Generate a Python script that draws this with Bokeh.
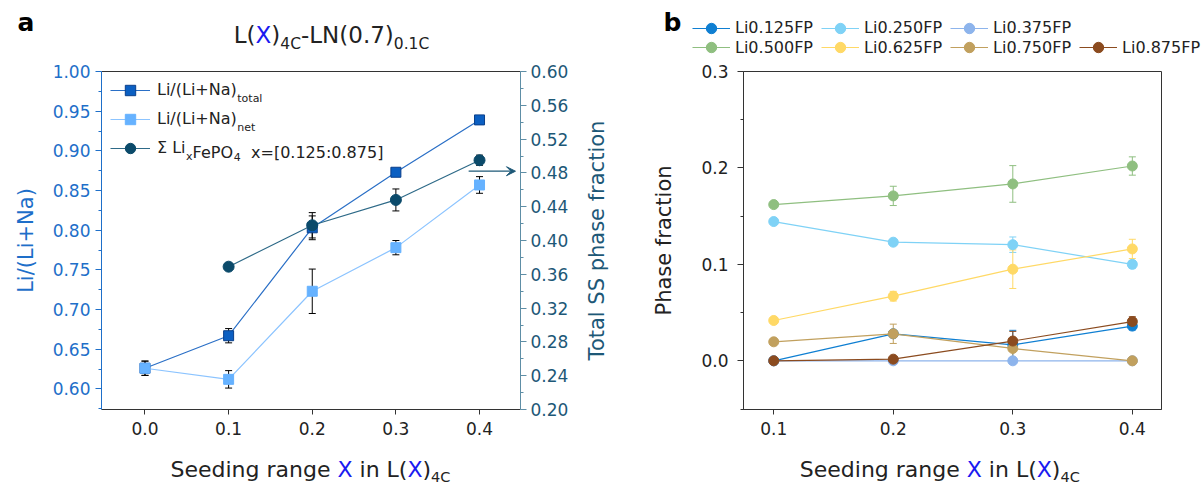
import math
import numpy as np
from bokeh.plotting import figure
from bokeh.models import (Range1d, LinearAxis, FixedTicker, NumeralTickFormatter, Whisker,
                          TeeHead, ColumnDataSource, Legend, LegendItem, Label, Arrow, VeeHead,
                          GridBox)
from bokeh.core.properties import value
from bokeh.layouts import row
from bokeh.embed import file_html
from bokeh.resources import INLINE

# ---------------- data : panel a ----------------
seeding_a = [0.0, 0.1, 0.2, 0.3, 0.4]
li_total = [0.626, 0.667, 0.803, 0.873, 0.939]
li_total_err = [0.009, 0.009, 0.015, 0.004, 0.003]
li_net = [0.626, 0.612, 0.723, 0.778, 0.857]
li_net_err = [0.009, 0.011, 0.028, 0.009, 0.0105]
seeding_ss = [0.1, 0.2, 0.3, 0.4]
ss_fraction = [0.369, 0.418, 0.448, 0.495]
ss_fraction_err = [0.002, 0.015, 0.013, 0.006]

a_xticks = [0.0, 0.1, 0.2, 0.3, 0.4]
a_left_ticks = [0.60, 0.65, 0.70, 0.75, 0.80, 0.85, 0.90, 0.95, 1.00]
a_left_minor = [0.575, 0.625, 0.675, 0.725, 0.775, 0.825, 0.875, 0.925, 0.975]
a_right_ticks = [0.20, 0.24, 0.28, 0.32, 0.36, 0.40, 0.44, 0.48, 0.52, 0.56, 0.60]
a_right_minor = [0.22, 0.26, 0.30, 0.34, 0.38, 0.42, 0.46, 0.50, 0.54, 0.58]

# ---------------- data : panel b ----------------
seeding_b = [0.1, 0.2, 0.3, 0.4]
phase_names = ["Li0.125FP", "Li0.250FP", "Li0.375FP", "Li0.500FP",
               "Li0.625FP", "Li0.750FP", "Li0.875FP"]
li0125 = [0.0, 0.028, 0.0166, 0.036]
li0125_err = [0.001, 0.003, 0.015, 0.004]
li0250 = [0.1444, 0.123, 0.1204, 0.100]
li0250_err = [0.002, 0.003, 0.008, 0.004]
li0375 = [0.0, 0.0, 0.0, 0.0]
li0375_err = [0.0, 0.0, 0.0, 0.0]
li0500 = [0.162, 0.171, 0.1834, 0.202]
li0500_err = [0.002, 0.010, 0.019, 0.0095]
li0625 = [0.0418, 0.067, 0.095, 0.116]
li0625_err = [0.002, 0.005, 0.020, 0.010]
li0750 = [0.0197, 0.028, 0.0128, 0.0]
li0750_err = [0.002, 0.010, 0.010, 0.001]
li0875 = [0.0, 0.0017, 0.0205, 0.0407]
li0875_err = [0.001, 0.002, 0.010, 0.005]

b_xticks = [0.1, 0.2, 0.3, 0.4]
b_yticks = [0.0, 0.1, 0.2, 0.3]
b_yminor = [-0.05, 0.05, 0.15, 0.25]

phase_values = [li0125, li0250, li0375, li0500, li0625, li0750, li0875]
phase_errs = [li0125_err, li0250_err, li0375_err, li0500_err, li0625_err, li0750_err, li0875_err]
phase_colors = ["#0f7fd2", "#7fd2f6", "#8db4ec", "#8fbf80", "#ffd966", "#c1a05e", "#8b4b1f"]

# ---------------- styling ----------------
FONT = "DejaVu Sans"
BLUE_AX = "#1e6fc9"
TEAL_AX = "#1d5877"
TEAL_LINE = "#5e8ea6"
DARK = "#222222"
XBLUE = "#1a1af0"
C_TOTAL, C_TOTAL_EDGE, C_TOTAL_LINE = "#0b5fc2", "#0a3f8a", "#2a6fc6"
C_NET, C_NET_LINE = "#66b2ff", "#8cc4ff"
C_SS, C_SS_LINE = "#0b4a6a", "#2e6a88"

W = {' ': 0.318, '(': 0.390, ')': 0.390, '+': 0.838, '-': 0.361, '.': 0.318, '/': 0.337,
     ':': 0.337, '=': 0.838, '[': 0.390, ']': 0.390, 'C': 0.698, 'F': 0.575, 'L': 0.557,
     'N': 0.748, 'O': 0.787, 'P': 0.603, 'S': 0.635, 'T': 0.611, 'X': 0.685, 'a': 0.613,
     'b': 0.635, 'c': 0.550, 'd': 0.635, 'e': 0.615, 'f': 0.352, 'g': 0.635, 'h': 0.634,
     'i': 0.278, 'l': 0.278, 'n': 0.634, 'o': 0.612, 'r': 0.411, 's': 0.521, 't': 0.392,
     'x': 0.592, 'Σ': 0.632}


def tw(s, size):
    return sum(W.get(c, 0.636 if c.isdigit() else 0.6) for c in s) * size


def compose(p, x, y, parts, units="screen", down=False, bold=False, fix=0.0):
    """Place successive text runs; dy is a baseline shift (positive = lower)."""
    for text, size, color, dy in parts:
        lead = len(text) - len(text.lstrip(' '))
        yy = (y + dy - fix * size) if down else (y - dy + fix * size)
        p.add_layout(Label(x=x + tw(' ' * lead, size), y=yy, x_units=units, y_units=units,
                           text=text.strip(' '), text_font=FONT, text_font_size=f"{size}px",
                           text_color=color, text_baseline="alphabetic", text_align="left",
                           text_font_style="bold" if bold else "normal"))
        x += tw(text, size)


def style_axis(ax, color, line_color, size="17px", standoff=5):
    ax.major_label_text_font = FONT
    ax.major_label_text_font_size = size
    ax.major_label_text_color = color
    ax.axis_line_color = line_color
    ax.major_tick_line_color = line_color
    ax.minor_tick_line_color = line_color
    ax.major_tick_out = 6
    ax.major_tick_in = 0
    ax.minor_tick_out = 3
    ax.minor_tick_in = 0
    ax.major_label_standoff = standoff
    ax.axis_label_text_font = FONT
    ax.axis_label_text_font_style = "normal"
    ax.axis_label_text_font_size = "21px"
    ax.axis_label_text_color = color


def err_source(x, y, e):
    y = np.asarray(y, dtype=float)
    e = np.asarray(e, dtype=float)
    return ColumnDataSource(dict(x=list(x), y=list(y), lo=list(y - e), hi=list(y + e)))


def whisker(src, color, y_range_name="default", cap=7):
    return Whisker(source=src, base="x", lower="lo", upper="hi", line_color=color, line_width=1,
                   level="underlay", y_range_name=y_range_name,
                   upper_head=TeeHead(size=cap, line_color=color, line_width=1),
                   lower_head=TeeHead(size=cap, line_color=color, line_width=1))


FW, FH = 419, 338

# ================= panel a =================
pa = figure(frame_width=FW, frame_height=FH, min_border_left=101, min_border_right=120,
            min_border_top=71, min_border_bottom=75, x_range=Range1d(-0.052, 0.449),
            y_range=Range1d(0.574, 1.0), toolbar_location=None, output_backend="svg",
            background_fill_color="white", border_fill_color="white")
pa.outline_line_color = None
pa.xgrid.visible = False
pa.ygrid.visible = False
pa.extra_y_ranges = {"right": Range1d(0.2, 0.6)}

pa.xaxis.ticker = FixedTicker(ticks=a_xticks)
pa.xaxis.formatter = NumeralTickFormatter(format="0.0")
style_axis(pa.xaxis[0], DARK, "#333333", standoff=7)
pa.xaxis.major_tick_out = 5
pa.xaxis.minor_tick_line_color = None

pa.yaxis.ticker = FixedTicker(ticks=a_left_ticks, minor_ticks=a_left_minor)
pa.yaxis.formatter = NumeralTickFormatter(format="0.00")
pa.yaxis.axis_label = "Li/(Li+Na)"
style_axis(pa.yaxis[0], BLUE_AX, BLUE_AX, standoff=5)
pa.yaxis.axis_label_standoff = 12

rax = LinearAxis(y_range_name="right", ticker=FixedTicker(ticks=a_right_ticks, minor_ticks=a_right_minor),
                 formatter=NumeralTickFormatter(format="0.00"))
style_axis(rax, TEAL_AX, TEAL_LINE, standoff=4)
pa.add_layout(rax, "right")

tax = LinearAxis(ticker=FixedTicker(ticks=[]), axis_line_color="#333333",
                 major_label_text_font_size="0px")
pa.add_layout(tax, "above")

s_total = err_source(seeding_a, li_total, li_total_err)
s_net = err_source(seeding_a, li_net, li_net_err)
s_ss = err_source(seeding_ss, ss_fraction, ss_fraction_err)

pa.add_layout(whisker(s_total, "black"))
pa.add_layout(whisker(s_net, "black"))
pa.add_layout(whisker(s_ss, "black", "right"))

l_total = pa.line("x", "y", source=s_total, line_color=C_TOTAL_LINE, line_width=1.2)
m_total = pa.scatter("x", "y", source=s_total, marker="square", size=10,
                     fill_color=C_TOTAL, line_color=C_TOTAL_EDGE, line_width=1)
l_net = pa.line("x", "y", source=s_net, line_color=C_NET_LINE, line_width=1.2)
m_net = pa.scatter("x", "y", source=s_net, marker="square", size=10,
                   fill_color=C_NET, line_color=C_NET, line_width=1)
l_ss = pa.line("x", "y", source=s_ss, line_color=C_SS_LINE, line_width=1.2, y_range_name="right")
m_ss = pa.scatter("x", "y", source=s_ss, marker="circle", size=11, y_range_name="right",
                  fill_color=C_SS, line_color=C_SS, line_width=1)

pa.add_layout(Arrow(x_start=0.387, y_start=0.482, x_end=0.443, y_end=0.482, y_range_name="right",
                    line_color=TEAL_AX, line_width=1.3,
                    end=VeeHead(size=9, fill_color=TEAL_AX, line_color=TEAL_AX, line_width=1)))

leg_a = Legend(items=[LegendItem(label=value("Li/(Li+Na)"), renderers=[l_total, m_total]),
                      LegendItem(label=value("Li/(Li+Na)"), renderers=[l_net, m_net]),
                      LegendItem(label=value("Σ Li"), renderers=[l_ss, m_ss])],
               location=(9, 248.4), orientation="vertical", glyph_width=40, glyph_height=26,
               label_height=26, label_standoff=7, spacing=3, padding=0, margin=0,
               border_line_color=None, background_fill_alpha=0,
               label_text_font=FONT, label_text_font_size="16px", label_text_color=DARK)
pa.add_layout(leg_a)

# legend subscripts / continuations (frame-relative screen coords, inside the frame)
tx0 = 9 + 40 + 7
row_c = [FH - 5.6 - 13 - 29 * i for i in range(3)]
base = [c - 4.8 for c in row_c]
wl = tw("Li/(Li+Na)", 16)
compose(pa, tx0 + wl, base[0], [("total", 11, DARK, 4)])
compose(pa, tx0 + wl, base[1], [("net", 11, DARK, 4)])
compose(pa, tx0 + tw("Σ Li", 16), base[2],
        [("x", 11, DARK, 4), ("FePO", 16, DARK, 0), ("4", 11, DARK, 4),
         ("  x=[0.125:0.875]", 16, DARK, 0)])

# ================= panel b =================
FWB = 418
pb = figure(frame_width=FWB, frame_height=FH, min_border_left=103, min_border_right=43,
            min_border_top=71, min_border_bottom=75, x_range=Range1d(0.0747, 0.4244),
            y_range=Range1d(-0.0505, 0.3), toolbar_location=None, output_backend="svg",
            background_fill_color="white", border_fill_color="white")
pb.outline_line_color = "#333333"
pb.outline_line_width = 1
pb.xgrid.visible = False
pb.ygrid.visible = False

pb.xaxis.ticker = FixedTicker(ticks=b_xticks)
pb.xaxis.formatter = NumeralTickFormatter(format="0.0")
style_axis(pb.xaxis[0], DARK, "#333333", standoff=7)
pb.xaxis.major_tick_out = 5

pb.yaxis.ticker = FixedTicker(ticks=b_yticks, minor_ticks=b_yminor)
pb.yaxis.formatter = NumeralTickFormatter(format="0.0")
pb.yaxis.axis_label = "Phase fraction"
style_axis(pb.yaxis[0], DARK, "#333333", standoff=9)
pb.yaxis.axis_label_standoff = 22

for name, vals, errs, col in zip(phase_names, phase_values, phase_errs, phase_colors):
    src = err_source(seeding_b, vals, errs)
    pb.add_layout(whisker(src, col, cap=7))
    pb.line("x", "y", source=src, line_color=col, line_width=1.2)
    pb.scatter("x", "y", source=src, marker="circle", size=10, fill_color=col, line_color=col)

# ================= overlay (texts outside the plot frames) =================
ov = figure(width=1204, height=484, min_border=0, x_range=Range1d(0, 1204), y_range=Range1d(484, 0),
            toolbar_location=None, output_backend="svg", x_axis_location=None, y_axis_location=None)
ov.outline_line_color = None
ov.background_fill_color = None
ov.border_fill_color = None
ov.grid.visible = False

# legend proxies for panel b (styled like the series; they hold no visible point)
items_b = []
for name, col in zip(phase_names, phase_colors):
    proxy = ColumnDataSource(dict(x=[float("nan")], y=[float("nan")]))
    lr = ov.line("x", "y", source=proxy, line_color=col, line_width=1.2)
    mr = ov.scatter("x", "y", source=proxy, marker="circle", size=10, fill_color=col, line_color=col)
    items_b.append(LegendItem(label=value(name), renderers=[lr, mr]))


def legend_b(items, y):
    return Legend(items=items, location=(692, y), orientation="horizontal", glyph_width=38,
                  glyph_height=26, label_height=26, label_standoff=5, spacing=8, padding=0, margin=0,
                  border_line_color=None, background_fill_alpha=0,
                  label_text_font=FONT, label_text_font_size="16px", label_text_color=DARK)


ov.add_layout(legend_b(items_b[:3], 484 - 40.7))
ov.add_layout(legend_b(items_b[3:], 484 - 60.3))

FIX = 0.33
# title of panel a
compose(ov, 233.3, 42.3, [("L(", 23, DARK, 0), ("X", 23, XBLUE, 0), (")", 23, DARK, 0),
                          ("4C", 15.5, DARK, 6), ("-LN(0.7)", 23, DARK, 0), ("0.1C", 15.5, DARK, 6)],
        units="data", down=True, fix=FIX)
# x labels
xlab = [("Seeding range ", 22, DARK, 0), ("X", 22, XBLUE, 0), (" in L(", 22, DARK, 0),
        ("X", 22, XBLUE, 0), (")", 22, DARK, 0), ("4C", 14.5, DARK, 5)]
compose(ov, 170, 476.0, xlab, units="data", down=True, fix=FIX)
compose(ov, 799.3, 476.0, xlab, units="data", down=True, fix=FIX)
# right axis title of panel a (reads bottom to top)
ov.add_layout(Label(x=596, y=240, text="Total SS phase fraction", angle=math.pi / 2,
                    text_align="center", text_baseline="middle", text_font=FONT,
                    text_font_size="21px", text_color=TEAL_AX))
# panel letters
compose(ov, 17, 30, [("a", 25, "black", 0)], units="data", down=True, bold=True, fix=FIX)
compose(ov, 663, 30, [("b", 25, "black", 0)], units="data", down=True, bold=True, fix=FIX)

panels = row(pa, pb)
grid = GridBox(children=[(panels, 0, 0), (ov, 0, 0)])
open("out.html", "w").write(file_html(grid, INLINE))
